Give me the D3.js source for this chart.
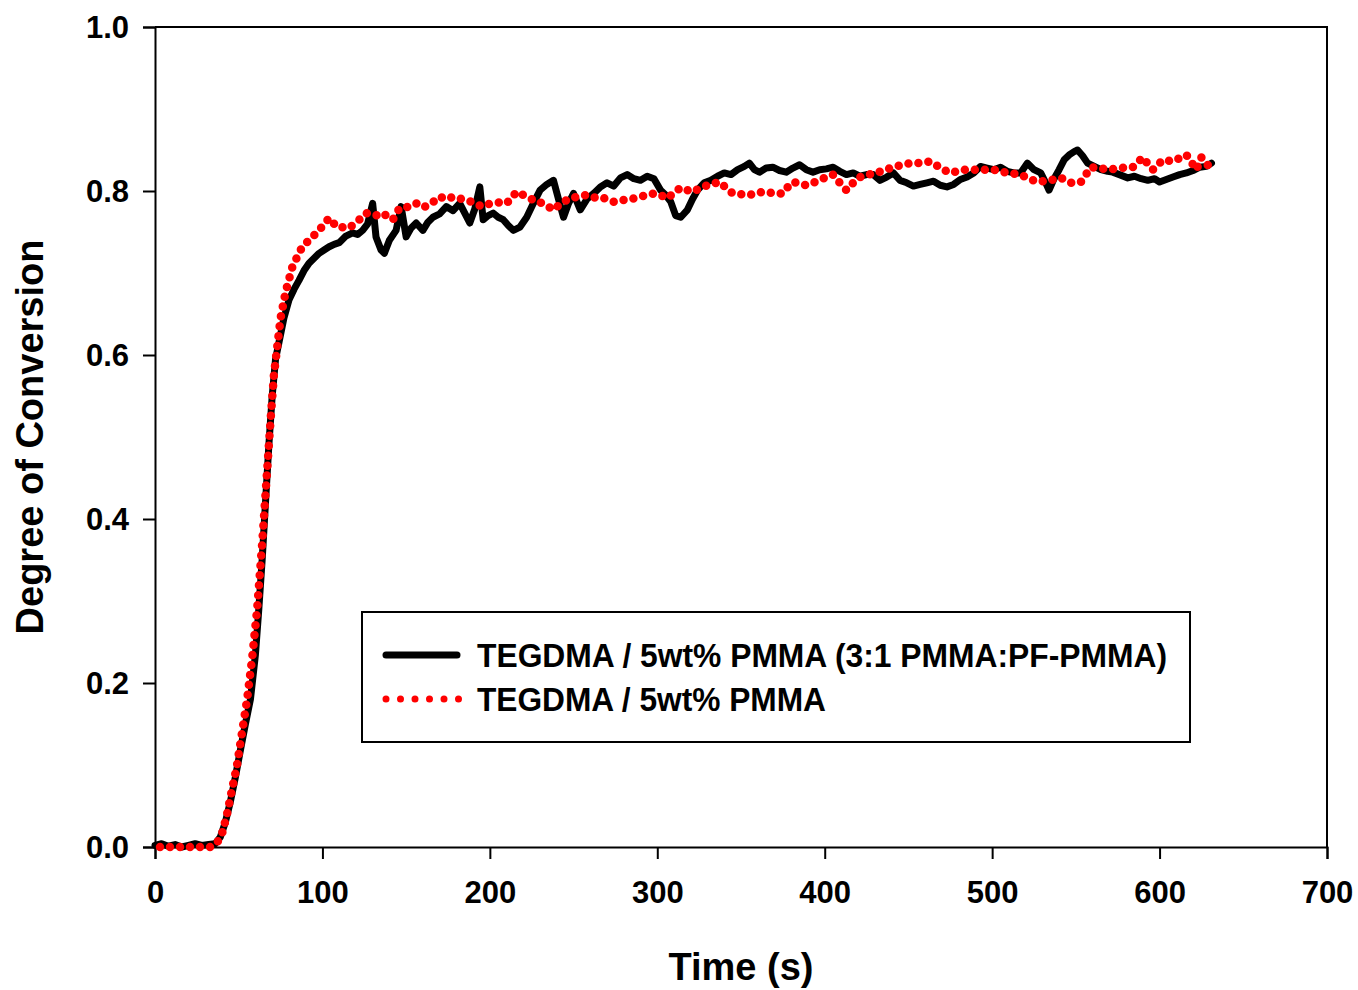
<!DOCTYPE html>
<html>
<head>
<meta charset="utf-8">
<script src="https://cdn.jsdelivr.net/npm/d3@7"></script>
<style>
  body { margin: 0; background: #fff; }
  text { font-family: "Liberation Sans", Arial, sans-serif; font-weight: bold; }
</style>
</head>
<body>
<div id="chart"></div>
<script>
// Time (s) and degree of conversion
const blackTime = [
  0, 4, 8, 12, 16, 20, 24, 28, 32, 36,
  39, 42, 45, 48, 51, 54, 57, 60, 62, 64,
  66, 68, 70, 72, 74, 77, 80, 83, 86, 89,
  92, 95, 98, 101, 104, 107, 110, 114, 118, 121,
  124, 127, 130, 132, 135, 137, 140, 144, 147, 150,
  153, 156, 160, 163, 166, 170, 174, 178, 182, 185,
  188, 191, 194, 196, 199, 202, 205, 208, 211, 214,
  218, 222, 226, 230, 234, 238, 241, 244, 247, 250,
  254, 258, 262, 266, 270, 274, 278, 282, 286, 290,
  294, 298, 302, 305, 308, 311, 314, 318, 321, 324,
  328, 332, 336, 340, 344, 348, 352, 355, 358, 361,
  365, 369, 373, 377, 381, 385, 389, 393, 397, 401,
  405, 409, 413, 417, 421, 425, 429, 433, 437, 441,
  445, 449, 453, 457, 461, 465, 469, 473, 477, 481,
  485, 489, 493, 497, 501, 505, 509, 513, 517, 521,
  525, 529, 532, 534, 537, 540, 543, 546, 549, 551,
  554, 557, 561, 565, 569, 572, 576, 581, 585, 589,
  593, 597, 600, 604, 608, 612, 616, 620, 624, 628,
  631
];
const blackConv = [
  0.002, 0.004, 0.001, 0.003, 0.000, 0.002, 0.004, 0.002, 0.003, 0.004,
  0.012, 0.030, 0.055, 0.085, 0.118, 0.150, 0.180, 0.235, 0.290, 0.350,
  0.420, 0.490, 0.550, 0.595, 0.615, 0.645, 0.667, 0.680, 0.691, 0.703,
  0.712, 0.718, 0.724, 0.728, 0.732, 0.735, 0.737, 0.745, 0.749, 0.747,
  0.752, 0.760, 0.785, 0.744, 0.728, 0.724, 0.740, 0.752, 0.781, 0.744,
  0.755, 0.761, 0.752, 0.762, 0.768, 0.772, 0.781, 0.776, 0.785, 0.773,
  0.761, 0.778, 0.805, 0.765, 0.770, 0.773, 0.768, 0.765, 0.758, 0.752,
  0.756, 0.768, 0.785, 0.801, 0.808, 0.813, 0.790, 0.768, 0.785, 0.797,
  0.777, 0.790, 0.797, 0.805, 0.810, 0.806, 0.816, 0.820, 0.815, 0.813,
  0.818, 0.815, 0.801, 0.795, 0.787, 0.770, 0.768, 0.777, 0.790, 0.801,
  0.810, 0.813, 0.818, 0.822, 0.820, 0.826, 0.830, 0.834, 0.826, 0.823,
  0.828, 0.829, 0.825, 0.823, 0.828, 0.832, 0.826, 0.823, 0.826, 0.827,
  0.829, 0.824, 0.820, 0.822, 0.818, 0.820, 0.820, 0.813, 0.817, 0.822,
  0.813, 0.810, 0.806, 0.808, 0.810, 0.812, 0.807, 0.805, 0.808, 0.814,
  0.817, 0.822, 0.830, 0.828, 0.826, 0.829, 0.824, 0.822, 0.822, 0.834,
  0.826, 0.822, 0.810, 0.801, 0.815, 0.826, 0.838, 0.844, 0.848, 0.850,
  0.843, 0.834, 0.830, 0.826, 0.824, 0.823, 0.820, 0.816, 0.818, 0.815,
  0.813, 0.815, 0.811, 0.814, 0.817, 0.820, 0.822, 0.825, 0.829, 0.830,
  0.834
];

const redTime = [
  3, 10, 18, 26, 33, 37, 40, 43, 46, 49,
  52, 55, 58, 61, 64, 67, 69, 71, 73, 75,
  78, 82, 85, 88, 91, 94, 98, 101, 104, 107,
  110, 113, 116, 119, 122, 126, 130, 133, 136, 139,
  142, 146, 150, 153, 156, 160, 164, 167, 170, 174,
  178, 182, 186, 190, 193, 196, 199, 202, 206, 210,
  213, 216, 219, 222, 225, 228, 231, 234, 238, 242,
  246, 250, 254, 258, 262, 266, 270, 274, 278, 282,
  286, 290, 294, 298, 302, 306, 310, 314, 318, 321,
  325, 330, 334, 337, 341, 345, 350, 355, 360, 365,
  370, 375, 378, 381, 385, 389, 393, 397, 401, 405,
  409, 413, 417, 421, 426, 431, 436, 441, 446, 451,
  455, 459, 463, 466, 469, 472, 475, 479, 483, 487,
  491, 496, 501, 505, 509, 513, 517, 522, 527, 531,
  535, 538, 541, 544, 547, 550, 553, 556, 559, 564,
  569, 573, 577, 581, 584, 587, 590, 593, 596, 599,
  602, 605, 608, 612, 616, 619, 622, 625, 628, 630
];
const redConv = [
  0.000, 0.000, 0.000, 0.000, 0.000, 0.005, 0.016, 0.040, 0.070, 0.100,
  0.140, 0.180, 0.230, 0.290, 0.370, 0.460, 0.520, 0.575, 0.610, 0.645,
  0.677, 0.707, 0.720, 0.732, 0.738, 0.744, 0.752, 0.760, 0.767, 0.760,
  0.755, 0.756, 0.755, 0.760, 0.765, 0.773, 0.772, 0.770, 0.773, 0.769,
  0.765, 0.779, 0.780, 0.782, 0.785, 0.780, 0.783, 0.788, 0.793, 0.790,
  0.793, 0.791, 0.789, 0.786, 0.783, 0.781, 0.784, 0.785, 0.786, 0.785,
  0.792, 0.799, 0.796, 0.793, 0.790, 0.789, 0.785, 0.782, 0.777, 0.784,
  0.789, 0.792, 0.794, 0.795, 0.792, 0.793, 0.790, 0.787, 0.788, 0.790,
  0.791, 0.793, 0.795, 0.797, 0.795, 0.791, 0.798, 0.804, 0.801, 0.799,
  0.803, 0.807, 0.809, 0.811, 0.804, 0.797, 0.796, 0.795, 0.798, 0.799,
  0.797, 0.797, 0.805, 0.811, 0.809, 0.807, 0.810, 0.813, 0.817, 0.820,
  0.810, 0.801, 0.810, 0.817, 0.820, 0.822, 0.826, 0.829, 0.832, 0.834,
  0.834, 0.835, 0.836, 0.832, 0.829, 0.825, 0.822, 0.824, 0.826, 0.826,
  0.826, 0.826, 0.826, 0.824, 0.822, 0.821, 0.820, 0.815, 0.811, 0.812,
  0.813, 0.815, 0.816, 0.813, 0.810, 0.810, 0.811, 0.820, 0.829, 0.828,
  0.826, 0.827, 0.828, 0.829, 0.829, 0.835, 0.841, 0.833, 0.826, 0.832,
  0.838, 0.837, 0.836, 0.840, 0.844, 0.835, 0.826, 0.841, 0.834, 0.828
];

const xTicks = [0, 100, 200, 300, 400, 500, 600, 700];
const yTicks = [0.0, 0.2, 0.4, 0.6, 0.8, 1.0];
const seriesNames = ["TEGDMA / 5wt% PMMA (3:1 PMMA:PF-PMMA)", "TEGDMA / 5wt% PMMA"];

const width = 1358, height = 990;
const margin = { left: 155, right: 31, top: 27, bottom: 143 };

const svg = d3.select("#chart")
              .append("svg")
              .attr("width", width)
              .attr("height", height);

svg.append("rect")
   .attr("width", width)
   .attr("height", height)
   .attr("fill", "#fff");

const x = d3.scaleLinear()
            .domain([0, 700])
            .range([margin.left, width - margin.right]);

const y = d3.scaleLinear()
            .domain([0, 1])
            .range([height - margin.bottom, margin.top]);

// frame (top and right sides)
svg.append("path")
   .attr("d", `M${x(0)},${y(1)}H${x(700)}V${y(0)}`)
   .attr("fill", "none")
   .attr("stroke", "#000")
   .attr("stroke-width", 2);

const xAxis = svg.append("g")
   .attr("transform", `translate(0,${y(0)})`)
   .call(d3.axisBottom(x).tickValues(xTicks).tickSize(12).tickPadding(22).tickFormat(d3.format("d")));

const yAxis = svg.append("g")
   .attr("transform", `translate(${x(0)},0)`)
   .call(d3.axisLeft(y).tickValues(yTicks).tickSize(12).tickPadding(14).tickFormat(d3.format(".1f")));

[xAxis, yAxis].forEach(g => {
  g.select(".domain").attr("stroke-width", 2);
  g.selectAll(".tick line").attr("stroke-width", 2);
  g.selectAll(".tick text")
   .style("font-size", "31px")
   .style("font-family", "'Liberation Sans', Arial, sans-serif")
   .style("font-weight", "bold")
   .attr("fill", "#000");
});
yAxis.selectAll(".tick text").attr("dy", "0.35em");

// axis titles
svg.append("text")
   .attr("x", (x(0) + x(700)) / 2)
   .attr("y", 980)
   .attr("text-anchor", "middle")
   .style("font-size", "38px")
   .text("Time (s)");

svg.append("text")
   .attr("transform", `translate(43,${(y(0) + y(1)) / 2}) rotate(-90)`)
   .attr("text-anchor", "middle")
   .style("font-size", "38px")
   .text("Degree of Conversion");

const line = d3.line()
               .x(d => x(d[0]))
               .y(d => y(d[1]));

const blackData = blackTime.map((t, i) => [t, blackConv[i]]);
const redData = redTime.map((t, i) => [t, redConv[i]]);

svg.append("path")
   .datum(blackData)
   .attr("d", line)
   .attr("fill", "none")
   .attr("stroke", "#000")
   .attr("stroke-width", 7)
   .attr("stroke-linejoin", "round")
   .attr("stroke-linecap", "round");

svg.append("path")
   .datum(redData)
   .attr("d", line)
   .attr("fill", "none")
   .attr("stroke", "#ff0000")
   .attr("stroke-width", 8.5)
   .attr("stroke-linecap", "round")
   .attr("stroke-dasharray", "0 10");

// legend
const legend = svg.append("g");
legend.append("rect")
      .attr("x", 362)
      .attr("y", 612)
      .attr("width", 828)
      .attr("height", 130)
      .attr("fill", "#fff")
      .attr("stroke", "#000")
      .attr("stroke-width", 2);

legend.append("line")
      .attr("x1", 386).attr("x2", 457)
      .attr("y1", 655).attr("y2", 655)
      .attr("stroke", "#000")
      .attr("stroke-width", 7)
      .attr("stroke-linecap", "round");

legend.append("line")
      .attr("x1", 386).attr("x2", 459)
      .attr("y1", 699).attr("y2", 699)
      .attr("stroke", "#ff0000")
      .attr("stroke-width", 7)
      .attr("stroke-linecap", "round")
      .attr("stroke-dasharray", "0 14.5");

legend.selectAll("text.leg")
      .data(seriesNames)
      .enter()
      .append("text")
      .attr("class", "leg")
      .attr("x", 477)
      .attr("y", (d, i) => 667 + i * 44)
      .attr("textLength", (d, i) => i === 0 ? 690 : 349)
      .attr("lengthAdjust", "spacingAndGlyphs")
      .style("font-size", "33px")
      .text(d => d);
</script>
</body>
</html>
